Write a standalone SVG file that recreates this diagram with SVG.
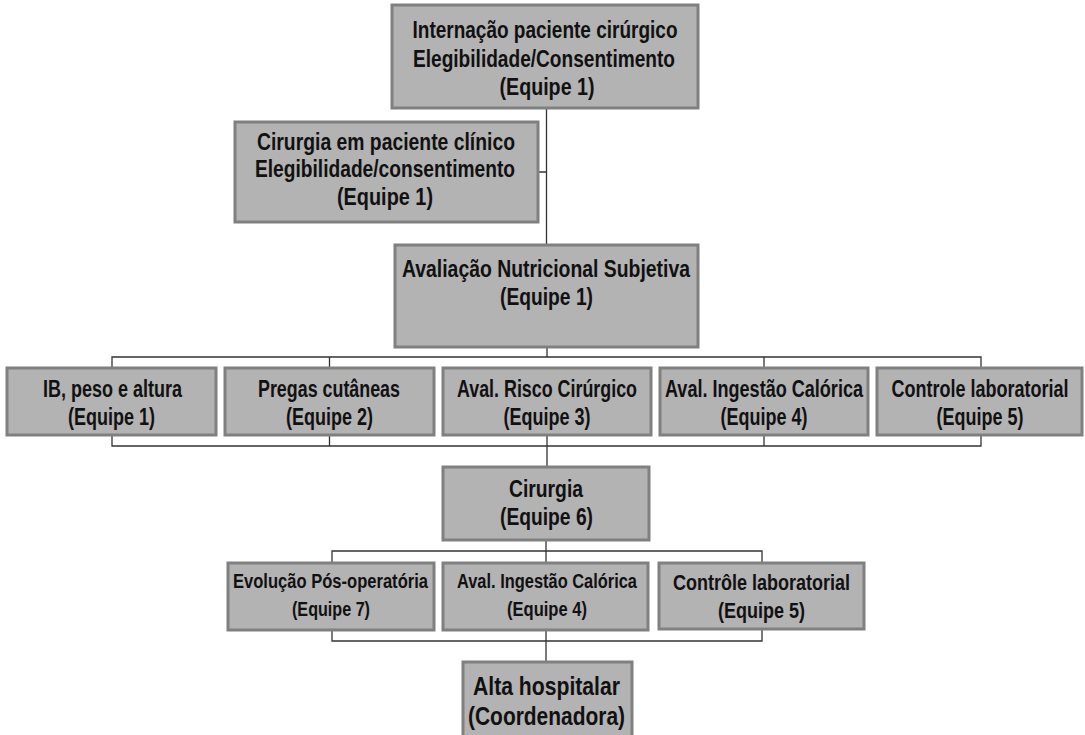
<svg xmlns="http://www.w3.org/2000/svg" width="1085" height="735" viewBox="0 0 1085 735">
<style>
.box{fill:#b3b3b3;stroke:#808080;stroke-width:3}
.t{font-family:"Liberation Sans Narrow","Liberation Sans",Arial,sans-serif;font-weight:bold;fill:#111;text-anchor:middle}
.l{fill:none;stroke:#333;stroke-width:1.3}
</style>
<rect width="1085" height="735" fill="#fff"/>
<g id="connectors">
<path class="l" d="M546.5,108 V245 M538,172 H546.5"/>
<path class="l" d="M547,347 V357 M112,368 V357 H981 V368 M329.5,357 V368 M764,357 V368"/>
<path class="l" d="M112,435 V446 H981 V435 M329.5,435 V446 M547,435 V467 M764,435 V446"/>
<path class="l" d="M546,540 V551 M332,563 V551 H762 V563 M546,551 V563"/>
<path class="l" d="M332,630 V641 H762 V630 M546,630 V662"/>
</g>
<g id="n1">
<rect class="box" x="392" y="5" width="306" height="103"/>
<text class="t" font-size="24" x="545" y="38" textLength="265" lengthAdjust="spacingAndGlyphs">Internação paciente cirúrgico</text>
<text class="t" font-size="24" x="544" y="67" textLength="262" lengthAdjust="spacingAndGlyphs">Elegibilidade/Consentimento</text>
<text class="t" font-size="24" x="547" y="95" textLength="95" lengthAdjust="spacingAndGlyphs">(Equipe 1)</text>
</g>
<g id="n2">
<rect class="box" x="235" y="122" width="303" height="100"/>
<text class="t" font-size="24" x="386" y="150" textLength="258" lengthAdjust="spacingAndGlyphs">Cirurgia em paciente clínico</text>
<text class="t" font-size="24" x="385" y="177" textLength="260" lengthAdjust="spacingAndGlyphs">Elegibilidade/consentimento</text>
<text class="t" font-size="24" x="385" y="205" textLength="96" lengthAdjust="spacingAndGlyphs">(Equipe 1)</text>
</g>
<g id="n3">
<rect class="box" x="395" y="245" width="303" height="102"/>
<text class="t" font-size="24" x="546" y="277" textLength="288" lengthAdjust="spacingAndGlyphs">Avaliação Nutricional Subjetiva</text>
<text class="t" font-size="24" x="546.5" y="305" textLength="93" lengthAdjust="spacingAndGlyphs">(Equipe 1)</text>
</g>
<g id="n4">
<rect class="box" x="7" y="368" width="209" height="67"/>
<text class="t" font-size="23" x="112.5" y="397" textLength="139" lengthAdjust="spacingAndGlyphs">IB, peso e altura</text>
<text class="t" font-size="23" x="111.5" y="425" textLength="87" lengthAdjust="spacingAndGlyphs">(Equipe 1)</text>
</g>
<g id="n5">
<rect class="box" x="225" y="368" width="209" height="67"/>
<text class="t" font-size="23" x="329" y="397" textLength="142" lengthAdjust="spacingAndGlyphs">Pregas cutâneas</text>
<text class="t" font-size="23" x="329.5" y="425" textLength="87" lengthAdjust="spacingAndGlyphs">(Equipe 2)</text>
</g>
<g id="n6">
<rect class="box" x="443" y="368" width="208" height="67"/>
<text class="t" font-size="23" x="547" y="397" textLength="180" lengthAdjust="spacingAndGlyphs">Aval. Risco Cirúrgico</text>
<text class="t" font-size="23" x="547" y="425" textLength="87" lengthAdjust="spacingAndGlyphs">(Equipe 3)</text>
</g>
<g id="n7">
<rect class="box" x="660" y="368" width="208" height="67"/>
<text class="t" font-size="23" x="764" y="397" textLength="198" lengthAdjust="spacingAndGlyphs">Aval. Ingestão Calórica</text>
<text class="t" font-size="23" x="764" y="425" textLength="87" lengthAdjust="spacingAndGlyphs">(Equipe 4)</text>
</g>
<g id="n8">
<rect class="box" x="877" y="368" width="205" height="67"/>
<text class="t" font-size="23" x="980" y="397" textLength="177" lengthAdjust="spacingAndGlyphs">Controle laboratorial</text>
<text class="t" font-size="23" x="980" y="425" textLength="87" lengthAdjust="spacingAndGlyphs">(Equipe 5)</text>
</g>
<g id="n9">
<rect class="box" x="443" y="467" width="206" height="73"/>
<text class="t" font-size="24" x="546" y="497" textLength="74" lengthAdjust="spacingAndGlyphs">Cirurgia</text>
<text class="t" font-size="24" x="546.5" y="525" textLength="93" lengthAdjust="spacingAndGlyphs">(Equipe 6)</text>
</g>
<g id="n10">
<rect class="box" x="228" y="563" width="206" height="67"/>
<text class="t" font-size="20" x="330.5" y="588" textLength="195" lengthAdjust="spacingAndGlyphs">Evolução Pós-operatória</text>
<text class="t" font-size="20" x="331" y="616" textLength="78" lengthAdjust="spacingAndGlyphs">(Equipe 7)</text>
</g>
<g id="n11">
<rect class="box" x="443" y="563" width="205" height="67"/>
<text class="t" font-size="20" x="547" y="588" textLength="180" lengthAdjust="spacingAndGlyphs">Aval. Ingestão Calórica</text>
<text class="t" font-size="20" x="547" y="616" textLength="80" lengthAdjust="spacingAndGlyphs">(Equipe 4)</text>
</g>
<g id="n12">
<rect class="box" x="659" y="563" width="205" height="66"/>
<text class="t" font-size="22" x="761.5" y="590" textLength="177" lengthAdjust="spacingAndGlyphs">Contrôle laboratorial</text>
<text class="t" font-size="22" x="761.5" y="618" textLength="87" lengthAdjust="spacingAndGlyphs">(Equipe 5)</text>
</g>
<g id="n13">
<rect class="box" x="463" y="662" width="169" height="80"/>
<text class="t" font-size="25" x="546.5" y="695" textLength="147" lengthAdjust="spacingAndGlyphs">Alta hospitalar</text>
<text class="t" font-size="25" x="546.5" y="725" textLength="157" lengthAdjust="spacingAndGlyphs">(Coordenadora)</text>
</g>
</svg>
